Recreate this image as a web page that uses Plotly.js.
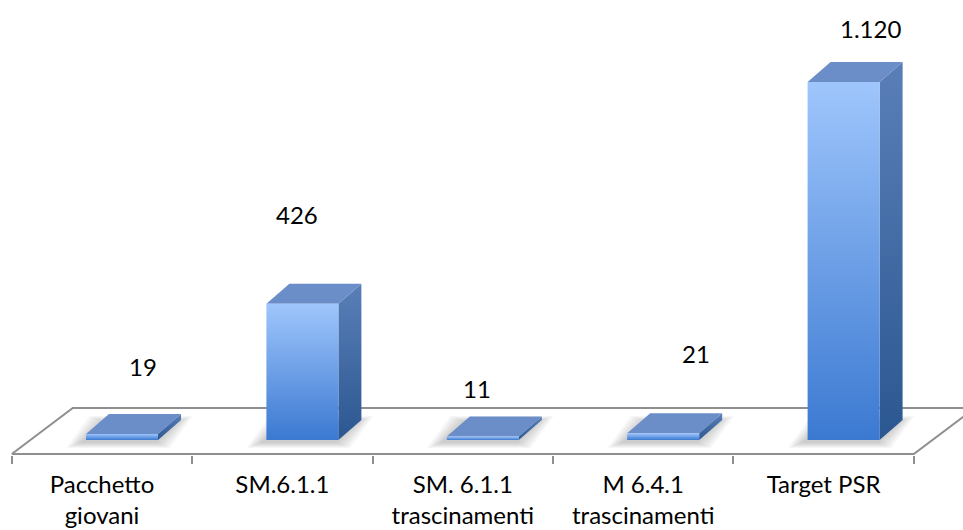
<!DOCTYPE html>
<html>
<head>
<meta charset="utf-8">
<script src="https://cdn.plot.ly/plotly-3.0.1.min.js"></script>
<style>
  html, body { margin: 0; padding: 0; background: #ffffff; }
  #chart { width: 963px; height: 530px; }
</style>
</head>
<body>
<div id="chart"></div>
<script>
// Categories, values and label nudges
const categories = [
  'Pacchetto<br>giovani',
  'SM.6.1.1',
  'SM. 6.1.1<br>trascinamenti',
  'M 6.4.1<br>trascinamenti',
  'Target PSR'
];
const values = [19, 426, 11, 21, 1120];
const labelShiftX = [41, 15, 14, 53, 47];
const labelShiftY = [67, 89, 48, 80, 54];

// Pixel geometry of the pseudo-3D scene
const W = 963, H = 530, BOTTOM = 75;
const PX_CAT = 180.4;                 // pixels per category
const PX_VAL = 358 / 1120;            // pixels per value unit
const X0PX = 102;                     // pixel of first category centre
const ZERO_ABOVE_AXIS = 15;           // bar base above floor front edge (px)
const xRange = [-X0PX / PX_CAT, (W - X0PX) / PX_CAT];
const plotH = H - BOTTOM;
const yRange = [-ZERO_ABOVE_AXIS / PX_VAL, (plotH - ZERO_ABOVE_AXIS) / PX_VAL];

const px2x = p => p / PX_CAT;
const px2y = p => p / PX_VAL;

const FACE_L = px2x(-16), FACE_R = px2x(56);   // front face extent around category
const DX = px2x(23), DY = px2y(20);            // depth offset of the box

const FONT = 'Lato, "Open Sans", sans-serif';

function fmt(v) {
  return String(v).replace(/\B(?=(\d{3})+(?!\d))/g, '.');
}

function poly(xs, ys, extra) {
  return Object.assign({
    type: 'scatter', mode: 'lines',
    x: xs.concat([xs[0]]), y: ys.concat([ys[0]]),
    fill: 'toself', line: { width: 0 },
    hoverinfo: 'skip', showlegend: false
  }, extra);
}

const traces = [];

// Floor
const floorFront = yRange[0] + px2y(1);
const floorBack = yRange[0] + px2y(47);
const floorShift = px2x(61);
const fx0 = -0.5, fx1 = categories.length - 0.5;
traces.push({
  type: 'scatter', mode: 'lines',
  x: [fx0, fx1, fx1 + floorShift, fx0 + floorShift, fx0],
  y: [floorFront, floorFront, floorBack, floorBack, floorFront],
  fill: 'toself', fillcolor: '#ffffff',
  line: { color: '#8f8f8f', width: 2 },
  hoverinfo: 'skip', showlegend: false
});

// Soft shadows under each box
values.forEach((v, i) => {
  const xa = i + FACE_L, xb = i + FACE_R;
  for (let k = 6; k >= 1; k--) {
    const ex = px2x(2.6 * k), ey = px2y(1.0 * k);
    const sx = px2x(-4), sy = px2y(-2);
    traces.push(poly(
      [xa - ex + sx, xb + ex + sx, xb + DX + ex + sx, xa + DX - ex + sx],
      [-ey + sy, -ey + sy, DY + ey + sy, DY + ey + sy],
      { fillcolor: 'rgba(70,70,70,0.05)' }
    ));
  }
});

// Boxes: side, top, front
values.forEach((v, i) => {
  const xa = i + FACE_L, xb = i + FACE_R;
  traces.push(poly(
    [xb, xb + DX, xb + DX, xb],
    [0, DY, v + DY, v],
    { fillgradient: { type: 'vertical', colorscale: [[0, '#2b5791'], [1, '#5a7fb8']] } }
  ));
  traces.push(poly(
    [xa, xb, xb + DX, xa + DX],
    [v, v, v + DY, v + DY],
    { fillcolor: '#6b8dc8' }
  ));
  traces.push(poly(
    [xa, xb, xb, xa],
    [0, 0, v, v],
    { fillgradient: { type: 'vertical', colorscale: [[0, '#3b79d1'], [1, '#9fc6fc']] } }
  ));
});

const annotations = values.map((v, i) => ({
  x: i, y: v, xref: 'x', yref: 'y',
  text: fmt(v), showarrow: false,
  xanchor: 'center', yanchor: 'middle',
  xshift: labelShiftX[i], yshift: labelShiftY[i],
  font: { family: FONT, size: 24, color: '#000000' }
}));

const boundaries = [];
for (let i = 0; i <= categories.length; i++) boundaries.push(i - 0.5);

const layout = {
  width: W, height: H,
  margin: { l: 0, r: 0, t: 0, b: BOTTOM, pad: 0 },
  paper_bgcolor: '#ffffff', plot_bgcolor: '#ffffff',
  showlegend: false,
  xaxis: {
    range: xRange, tickmode: 'array',
    tickvals: categories.map((c, i) => i), ticktext: categories,
    ticks: '', showgrid: false, zeroline: false, showline: false,
    tickfont: { family: FONT, size: 24, color: '#000000' },
    ticklabelstandoff: 13,
    minor: { tickmode: 'array', tickvals: boundaries, ticks: 'outside', ticklen: 8, tickwidth: 2, tickcolor: '#8f8f8f', showgrid: false },
    fixedrange: true
  },
  yaxis: { range: yRange, visible: false, fixedrange: true },
  annotations: annotations
};

Plotly.newPlot('chart', traces, layout, { staticPlot: true, displayModeBar: false });
</script>
</body>
</html>
